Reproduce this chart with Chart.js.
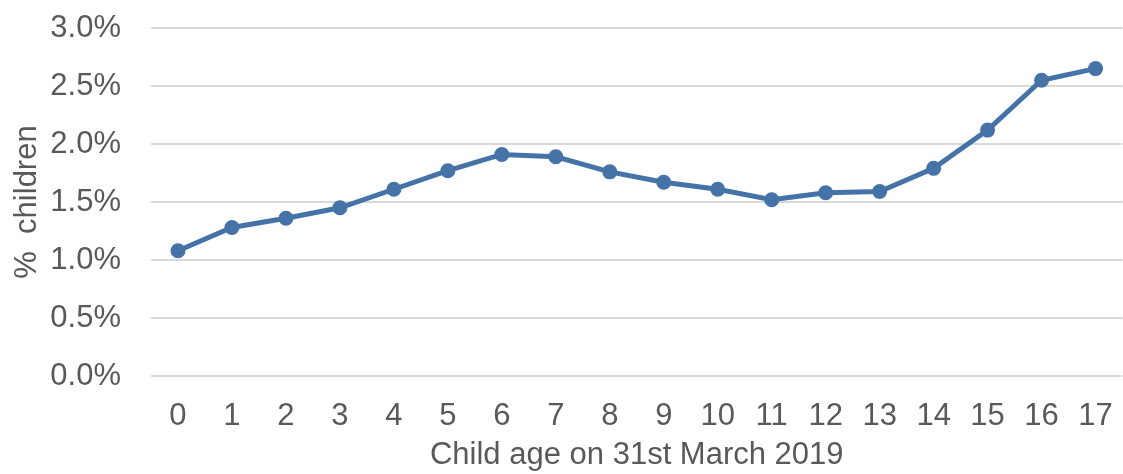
<!DOCTYPE html>
<html>
<head>
<meta charset="utf-8">
<script src="https://cdn.jsdelivr.net/npm/chart.js@4"></script>
<style>
  html, body { margin: 0; padding: 0; background: #fff; overflow: hidden; }
  #wrap { width: 1135px; height: 474px; }
</style>
</head>
<body>
<div id="wrap"><canvas id="grafica"></canvas></div>
<script>
    // ages 0..17
    let edades = ["0","1","2","3","4","5","6","7","8","9","10","11","12","13","14","15","16","17"];
    // % of children
    let porcentajes = [1.08, 1.28, 1.36, 1.45, 1.61, 1.77, 1.91, 1.89, 1.76, 1.67, 1.61, 1.52, 1.58, 1.59, 1.79, 2.12, 2.55, 2.65];
    let yTicks = [0, 0.5, 1, 1.5, 2, 2.5, 3];

    let gris = "#595959";
    let azul = "#4572A7";
    let fuente = { family: "'Liberation Sans', Arial, sans-serif", size: 31 };

    let ctx = document.getElementById("grafica").getContext("2d");

    var chart = new Chart(ctx, {
        type: "line",
        data: {
            labels: edades,
            datasets: [
                {
                    label: "% children",
                    data: porcentajes,
                    borderColor: azul,
                    backgroundColor: azul,
                    borderWidth: 5,
                    pointRadius: 7.5,
                    pointHoverRadius: 7.5,
                    pointBorderWidth: 0,
                    tension: 0
                }
            ]
        },
        options: {
            responsive: true,
            maintainAspectRatio: false,
            animation: false,
            layout: { padding: { top: 28, right: 3, left: 0, bottom: 0 } },
            plugins: {
                legend: { display: false },
                tooltip: { enabled: false }
            },
            scales: {
                x: {
                    offset: true,
                    grid: { display: false, drawTicks: false },
                    border: { display: false },
                    ticks: { color: gris, font: fuente, padding: 22, maxRotation: 0, autoSkip: false },
                    title: { display: true, text: "Child age on 31st March 2019", color: gris, font: fuente, padding: { top: 6, bottom: 0 } },
                    afterFit: function (scale) { scale.height = 98; }
                },
                y: {
                    min: 0,
                    max: 3,
                    afterBuildTicks: function (scale) { scale.ticks = yTicks.map(v => ({ value: v })); },
                    grid: { color: "#D9D9D9", lineWidth: 2, drawTicks: false },
                    border: { display: false },
                    ticks: {
                        color: gris,
                        font: fuente,
                        padding: 30,
                        callback: function (v) { return v.toFixed(1) + "%"; }
                    },
                    title: { display: true, text: "%  children", color: gris, font: fuente, padding: { top: 9, bottom: 10 } },
                    afterFit: function (scale) {
                        scale.width = 151;
                        scale.paddingTop = 0;
                        scale.paddingBottom = 0;
                    }
                }
            }
        }
    });
</script>
</body>
</html>
